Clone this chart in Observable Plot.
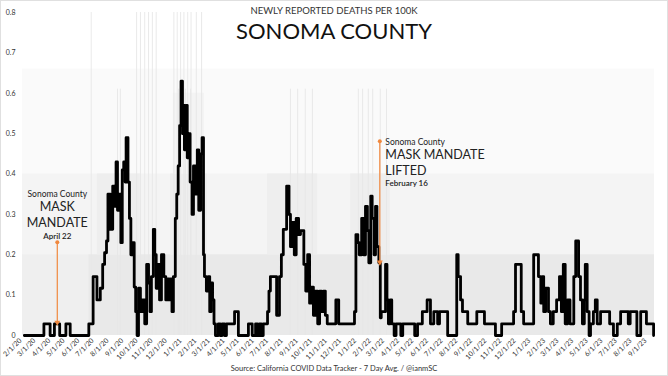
<!DOCTYPE html>
<html><head><meta charset="utf-8">
<script src="https://cdn.jsdelivr.net/npm/d3@7"></script>
<script src="https://cdn.jsdelivr.net/npm/@observablehq/plot@0.6"></script>
<style>
html,body{margin:0;padding:0;background:#fff;}
#wrap{position:relative;width:668px;height:376px;overflow:hidden;font-family:Lato,sans-serif;}
#frame{position:absolute;left:0;top:0;width:666px;height:374px;border:1px solid #e0e0e0;pointer-events:none}
.t{position:absolute;left:0;width:668px;text-align:center;white-space:nowrap}
</style></head><body>
<div id="wrap">
<div id="chart"></div>
<div class="t" style="top:5px;font-size:9.5px;color:#333">NEWLY REPORTED DEATHS PER 100K</div>
<div class="t" style="top:17px;font-size:22px;color:#111">SONOMA COUNTY</div>
<div class="t" style="top:364px;font-size:7.5px;color:#333">Source: California COVID Data Tracker - 7 Day Avg. / @ianmSC</div>
<div id="frame"></div>
</div>
<script>
// 7-day average, days since 2020-02-01
const avgDays = [8,49,62,71,82,95,104,143,152,160,167,172,176,180,183,188,193,197,200,203,207,210,213,216,219,221,225,228,231,235,238,241,244,247,251,255,260,264,268,271,274,278,281,284,287,291,295,300,304,308,311,314,317,320,324,327,330,333,336,339,341,343,346,349,352,355,359,362,366,370,373,377,380,383,385,389,393,396,399,402,405,408,414,418,422,427,431,448,456,477,485,492,496,500,504,508,517,520,523,536,542,546,550,557,562,565,569,573,577,582,586,593,597,601,605,609,613,617,622,626,630,634,638,642,660,666,699,702,706,709,714,718,722,726,729,733,736,740,743,746,750,753,755,764,767,770,774,777,782,786,796,800,825,831,841,851,858,865,873,877,894,913,916,921,925,936,955,971,994,1007,1032,1036,1048,1053,1074,1084,1089,1092,1095,1099,1105,1109,1115,1122,1128,1132,1136,1140,1145,1150,1158,1162,1168,1172,1176,1180,1182,1186,1190,1193,1199,1203,1207,1214,1233,1241,1249,1256,1272,1276,1290,1298,1310,1325];
const avgValues = [0,0.029,0,0.029,0,0.029,0,0.029,0.146,0.088,0.117,0.176,0.205,0.234,0.35,0.263,0.37,0.32,0.43,0.31,0.35,0.23,0.41,0.43,0.38,0.49,0.38,0.29,0.2,0.23,0.12,0.059,0,0.117,0.059,0.088,0.029,0.176,0.13,0.059,0.146,0.263,0.2,0.117,0.176,0.088,0.2,0.146,0.088,0.14,0.088,0.14,0.059,0.146,0.29,0.35,0.42,0.52,0.63,0.5,0.57,0.46,0.57,0.44,0.5,0.38,0.3,0.42,0.35,0.46,0.31,0.45,0.49,0.2,0.146,0.11,0.146,0.059,0.13,0.088,0.029,0,0.029,0,0.029,0,0.029,0.059,0,0.029,0,0.029,0,0.029,0,0.029,0.059,0.11,0.146,0.05,0.146,0.2,0.263,0.37,0.3,0.22,0.28,0.2,0.29,0.25,0.26,0.176,0.11,0.2,0.08,0.12,0.05,0.11,0.029,0.11,0.059,0.11,0.05,0.029,0.088,0.029,0.059,0.25,0.23,0.2,0.29,0.2,0.32,0.26,0.18,0.345,0.29,0.2,0.32,0.22,0.18,0.044,0.059,0.176,0.088,0.029,0.088,0.029,0,0.029,0,0.029,0,0.029,0.059,0.088,0.029,0.059,0.029,0.059,0,0.2,0.146,0.088,0.059,0.029,0.059,0.029,0,0.029,0.059,0.176,0.059,0.029,0.2,0.146,0.08,0.146,0.059,0.117,0.059,0.029,0.059,0.088,0.146,0.059,0.176,0.029,0.088,0.029,0.146,0.234,0.146,0.088,0.029,0.088,0.176,0.059,0,0.029,0.059,0.088,0.029,0.059,0.029,0,0.029,0.059,0.029,0.059,0,0.059,0.029,0];

// faint daily-report bands: start/end day, bottom/top value, density level
const bandStartDays = [4.2, 4.2, 4.2, 143, 161, 314, 517, 691, 320];
const bandEndDays   = [1326.9, 1326.9, 143, 1326.9, 251, 391, 622, 774, 385];
const bandBottoms   = [0, 0, 0, 0, 0.2, 0.2, 0.2, 0.2, 0.4];
const bandTops      = [0.66, 0.4, 0.2, 0.2, 0.4, 0.4, 0.4, 0.4, 0.6];
const bandLevels    = [1, 2, 3, 4, 5, 5, 5, 5, 2];

// individual daily report spikes
const spikeDays   = [148,243,251,260,268,276,284,321,328,335,342,350,357,368,379,203,209,331,345,356,565,580,596,611,707,716,728,737,753,766];
const spikeValues = [0.82,0.82,0.82,0.82,0.82,0.82,0.82,0.82,0.82,0.82,0.82,0.82,0.82,0.82,0.82,0.61,0.61,0.61,0.61,0.61,0.61,0.61,0.61,0.61,0.61,0.61,0.61,0.61,0.61,0.61];

const monthLabels = ["2/1/20","3/1/20","4/1/20","5/1/20","6/1/20","7/1/20","8/1/20","9/1/20","10/1/20","11/1/20","12/1/20",
"1/1/21","2/1/21","3/1/21","4/1/21","5/1/21","6/1/21","7/1/21","8/1/21","9/1/21","10/1/21","11/1/21","12/1/21",
"1/1/22","2/1/22","3/1/22","4/1/22","5/1/22","6/1/22","7/1/22","8/1/22","9/1/22","10/1/22","11/1/22","12/1/22",
"1/1/23","2/1/23","3/1/23","4/1/23","5/1/23","6/1/23","7/1/23","8/1/23","9/1/23"];
const yTicks = [0,0.1,0.2,0.3,0.4,0.5,0.6,0.7,0.8];

const annotations = [
  {day: 77, top: 0.231, bottom: 0.03, lines: ["Sonoma County","MASK","MANDATE","April 22"], side: "left"},
  {day: 752, top: 0.481, bottom: 0.179, lines: ["Sonoma County","MASK MANDATE","LIFTED","February 16"], side: "right"}
];

const base = Date.UTC(2020, 1, 1);
const dayToDate = d => new Date(base + d * 864e5);
const parseMDY = s => { const [m, d, y] = s.split("/").map(Number); return new Date(Date.UTC(2000 + y, m - 1, d)); };
const tickDates = monthLabels.map(parseMDY);
const labelByTime = new Map(tickDates.map((d, i) => [+d, monthLabels[i]]));

const lineData = avgDays.map((d, i) => ({date: dayToDate(d), v: avgValues[i]}));
const bands = bandStartDays.map((s, i) => ({x1: dayToDate(s), x2: dayToDate(bandEndDays[i]), bottom: bandBottoms[i], top: bandTops[i], level: bandLevels[i]}));
const spikes = spikeDays.map((d, i) => ({date: dayToDate(d), v: spikeValues[i]}));
const bandFill = {1: "#fafafa", 2: "#f4f4f4", 3: "#efefef", 4: "#e9e9e9", 5: "#eeeeee"};
const orange = "#f0883e";

const ann = annotations.map(a => ({...a, date: dayToDate(a.day)}));
const annText = [];
for (const a of ann) {
  const offs = a.side === "left" ? [-48, -35.5, -19.5, -6] : [0.7, 13.5, 29.7, 42.3];
  const sizes = [8.5, 12.5, 12.5, 8];
  a.lines.forEach((t, i) => annText.push({date: a.date, y: a.top, text: t, dy: offs[i], size: sizes[i], side: a.side, bold: i === 3}));
}

const textMarks = annText.map(t => Plot.text([t], {
  x: "date", y: "y", text: "text", dy: t.dy, dx: t.side === "left" ? 0 : 5.5,
  textAnchor: t.side === "left" ? "middle" : "start", lineAnchor: "middle",
  fontSize: t.size, fontWeight: t.bold ? 600 : 400, fill: "#222"
}));

const chart = Plot.plot({
  width: 668, height: 376,
  marginLeft: 22, marginRight: 14, marginTop: 12, marginBottom: 41,
  style: {background: "transparent", fontFamily: "Lato, sans-serif", fontSize: "7px", color: "#333"},
  x: {type: "utc", domain: [dayToDate(4.19), dayToDate(1326.9)]},
  y: {domain: [0, 0.8], clamp: true},
  marks: [
    Plot.rect(bands, {x1: "x1", x2: "x2", y1: "bottom", y2: "top", fill: d => bandFill[d.level]}),
    Plot.ruleX(spikes, {x: "date", y1: 0, y2: "v", stroke: "#e6e6e6", strokeWidth: 0.9}),
    Plot.line(lineData, {x: "date", y: "v", curve: "step-after", stroke: "#000", strokeWidth: 2.8}),
    Plot.ruleX(ann, {x: "date", y1: "bottom", y2: "top", stroke: orange, strokeWidth: 1.2}),
    Plot.dot(ann, {x: "date", y: "top", r: 2, fill: orange}),
    Plot.dot(ann, {x: "date", y: "bottom", symbol: "triangle", rotate: 180, r: 2.2, fill: orange, dy: -1}),
    ...textMarks,
    Plot.axisX(tickDates, {tickRotate: -45, tickSize: 0, tickPadding: 4, tickFormat: d => labelByTime.get(+d), fontSize: 7, fill: "#333", label: null}),
    Plot.axisY(yTicks, {tickSize: 0, tickPadding: 7, tickFormat: d => String(d), fontSize: 7, fill: "#333", label: null})
  ]
});
document.getElementById("chart").appendChild(chart);
</script>
</body></html>
